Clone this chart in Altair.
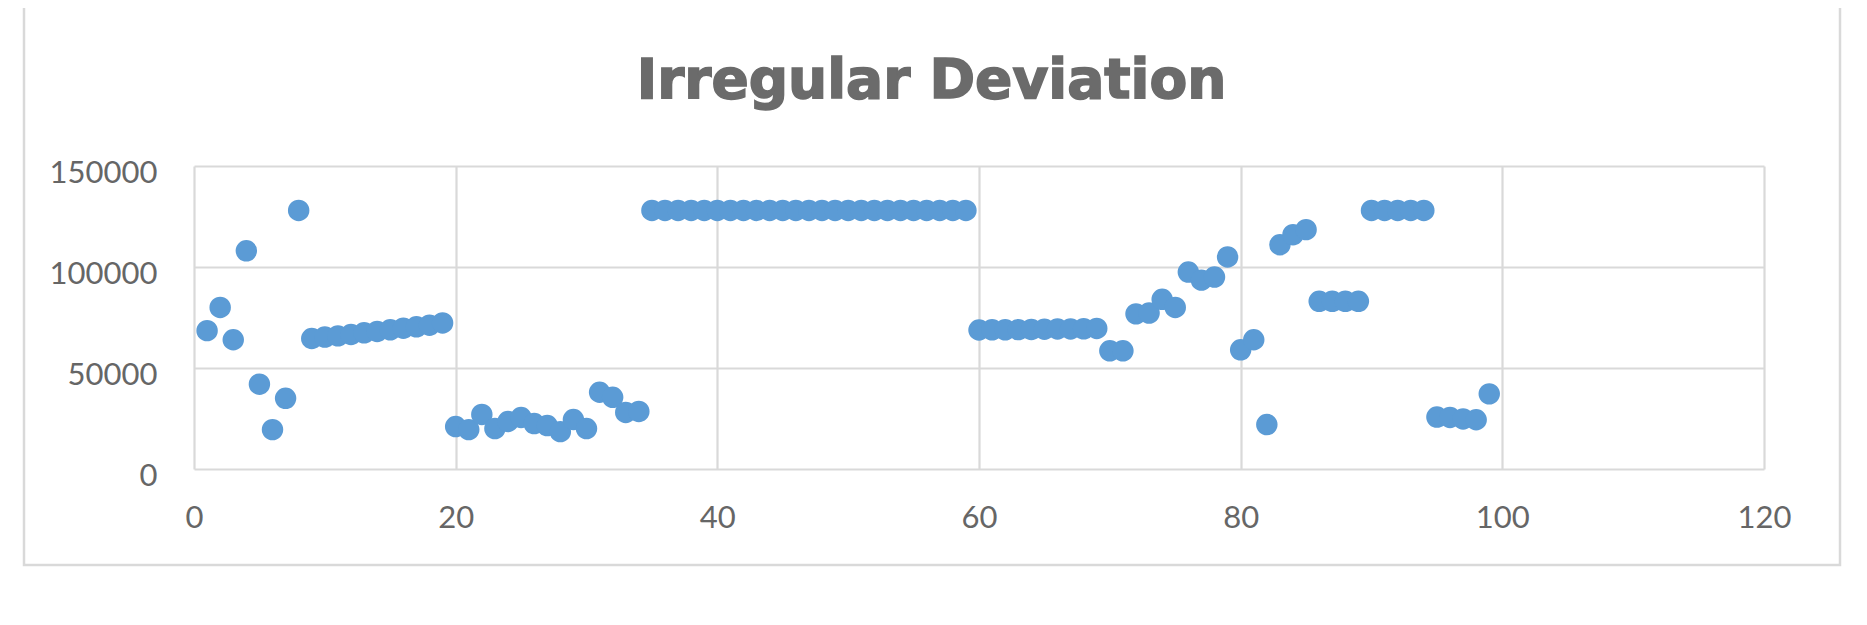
import altair as alt
import pandas as pd

# ---- data ----
x_index = [
    1, 2, 3, 4, 5, 6, 7, 8, 9, 10, 11, 12, 13, 14, 15, 16, 17, 18, 19, 20,
    21, 22, 23, 24, 25, 26, 27, 28, 29, 30, 31, 32, 33, 34, 35, 36, 37, 38, 39, 40,
    41, 42, 43, 44, 45, 46, 47, 48, 49, 50, 51, 52, 53, 54, 55, 56, 57, 58, 59, 60,
    61, 62, 63, 64, 65, 66, 67, 68, 69, 70, 71, 72, 73, 74, 75, 76, 77, 78, 79, 80,
    81, 82, 83, 84, 85, 86, 87, 88, 89, 90, 91, 92, 93, 94, 95, 96, 97, 98, 99,
]
values = [
    68500, 80000, 64000, 108000, 42000, 19500, 35000, 128000,
    64600, 65300, 65900, 66600, 67400, 68100, 68900, 69700, 70400, 71200, 72300,
    21000, 19500, 27000, 20000, 23500, 25500, 22500, 21500, 18500, 24500, 20000,
    38000, 35500, 28000, 28500,
    128000, 128000, 128000, 128000, 128000, 128000, 128000, 128000, 128000, 128000,
    128000, 128000, 128000, 128000, 128000, 128000, 128000, 128000, 128000, 128000,
    128000, 128000, 128000, 128000, 128000,
    68800, 68900, 68900, 69000, 69100, 69200, 69300, 69300, 69400, 69600,
    58500, 58500, 76800, 77200, 84000, 80000, 97500, 93500, 95000, 105000,
    59000, 64000, 22000, 111000, 116000, 118500,
    83000, 83000, 83000, 83000,
    128000, 128000, 128000, 128000, 128000,
    25700, 25500, 24800, 24400, 37200,
]
title_text = "Irregular Deviation"
x_ticks = [0, 20, 40, 60, 80, 100, 120]
y_ticks = [0, 50000, 100000, 150000]

df = pd.DataFrame({"x": x_index, "y": values})
one = pd.DataFrame({"k": [0]})

W, H = 1570, 303
GRID = "#d9d9d9"
LABEL = "#666666"

points = alt.Chart(df).mark_circle(size=460, color="#5B9BD5", opacity=1).encode(
    x=alt.X(
        "x:Q",
        scale=alt.Scale(domain=[0, 120], nice=False, zero=False),
        axis=alt.Axis(
            values=x_ticks, title=None, grid=True, gridColor=GRID, gridWidth=2.2,
            domain=False, ticks=False, labelPadding=34, labelFontSize=31,
            labelFont="Lato", labelColor=LABEL, format="d", labelFlush=False,
        ),
    ),
    y=alt.Y(
        "y:Q",
        scale=alt.Scale(domain=[0, 150000], nice=False),
        axis=alt.Axis(
            values=y_ticks, title=None, grid=True, gridColor=GRID, gridWidth=2.2,
            domain=False, ticks=False, labelPadding=37, labelFontSize=31,
            labelFont="Lato", labelColor=LABEL, format="d", labelFlush=False,
            labelOffset=7,
        ),
    ),
)

frame = alt.Chart(one).mark_rect(
    fill="white", fillOpacity=0, stroke=GRID, strokeWidth=2.5
).encode(
    x=alt.value(-170), x2=alt.value(1646), y=alt.value(-180), y2=alt.value(399)
)

title_mark = alt.Chart(one).mark_text(
    text=title_text, font="DejaVu Sans", fontWeight="bold", fontSize=55,
    color="#6b6b6b", stroke="#6b6b6b", strokeWidth=1.6,
    align="center", baseline="alphabetic",
).encode(x=alt.value(737.5), y=alt.value(-68.3))

chart = alt.layer(frame, points, title_mark).properties(
    width=W,
    height=H,
    padding={"left": 186, "top": 158, "right": 95, "bottom": 140},
    autosize=alt.AutoSizeParams(type="none"),
    background="white",
).configure_view(stroke=None)

chart.save("out.html", embed_options={"renderer": "svg", "actions": False})
